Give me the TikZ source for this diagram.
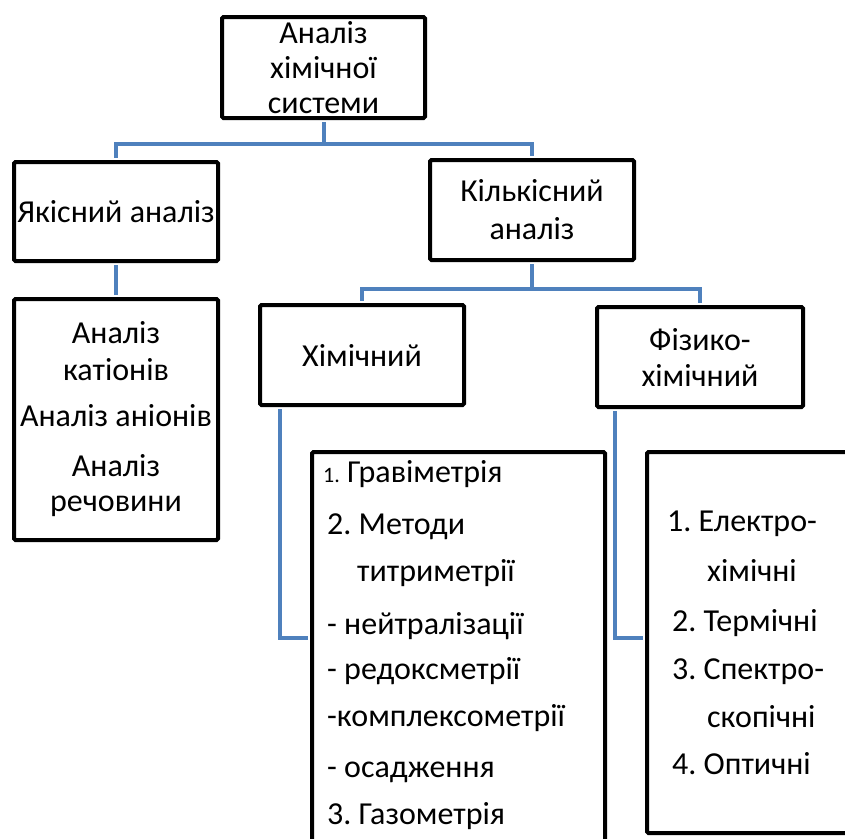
\documentclass[tikz,border=0pt]{standalone}
\usepackage{fontspec}
\setmainfont{Carlito}
\usepackage{tikz}
\usetikzlibrary{positioning}
\definecolor{linkblue}{RGB}{79, 129, 189}

\begin{document}
\frenchspacing
\begin{tikzpicture}[x=1pt, y=-1pt,
    box/.style={draw=black, line width=4pt, rounded corners=1.5pt, align=center,
      inner sep=0pt, font=\fontsize{32}{37}\selectfont},
    link/.style={draw=linkblue, line width=4pt, shorten <=2pt, shorten >=2pt},
    item/.style={anchor=base west, inner sep=0pt, font=\fontsize{32}{37}\selectfont}]
    \useasboundingbox (0,0) rectangle (845,838);
    \clip (0,0) rectangle (845,838);
    % top level
    \node[box, minimum width=203pt, minimum height=101pt] (sys) at (323.5,67.5)
      {Аналіз\\[-2pt]хімічної\\[-2pt]системи};
    \node[box, minimum width=204pt, minimum height=99pt] (yak) at (116,211.5)
      {Якісний аналіз};
    \node[box, minimum width=204pt, minimum height=100pt] (kil) at (532,210)
      {Кількісний\\[1pt]аналіз};
    % qualitative branch
    \node[box, minimum width=204pt, minimum height=241pt] (ions) at (116,419.5)
      {Аналіз\\катіонів\\[9pt]Аналіз аніонів\\[13pt]Аналіз\\[-2pt]речовини};
    % quantitative branch
    \node[box, minimum width=204pt, minimum height=100pt] (khim) at (362,355)
      {Хімічний};
    \node[box, minimum width=206pt, minimum height=100pt] (fiz) at (700,357)
      {Фізико-\\[-1pt]хімічний};
    \node[box, minimum width=293pt, minimum height=418pt] (chemlist) at (458.5,661) {};
    \node[box, minimum width=233pt, minimum height=381pt] (physlist) at (763.5,642.5) {};
    % connectors
    \draw[link] (sys.south) -- ++(0,24) -| (yak.north);
    \draw[link] (sys.south) -- ++(0,24) -| (kil.north);
    \draw[link] (yak.south) -- (ions.north);
    \draw[link] (kil.south) -- ++(0,27) -| (khim.north);
    \draw[link] (kil.south) -- ++(0,27) -| (fiz.north);
    \draw[link] ([xshift=22pt]khim.south west) |- ([yshift=-188pt]chemlist.north west);
    \draw[link] ([xshift=20pt]fiz.south west) |- ([yshift=-188pt]physlist.north west);
    % chemical methods
    \foreach \t/\x/\y [count=\i] in {{{\fontsize{22}{26}\selectfont 1.} Гравіметрія}/323/482,
        2. Методи/327/534, титриметрії/357/581, - нейтралізації/327/634,
        - редоксметрії/327/679, -комплексометрії/327/726, - осадження/327/777,
        3. Газометрія/327/824}
      \node[item] (chemitem\i) at (\x,\y) {\t};
    % physico-chemical methods
    \foreach \t/\x/\y [count=\i] in {1. Електро-/667/531, хімічні/707/581,
        2. Термічні/672/631, 3. Спектро-/672/679, скопічні/707/727, 4. Оптичні/672/774}
      \node[item] (physitem\i) at (\x,\y) {\t};
\end{tikzpicture}
\end{document}
